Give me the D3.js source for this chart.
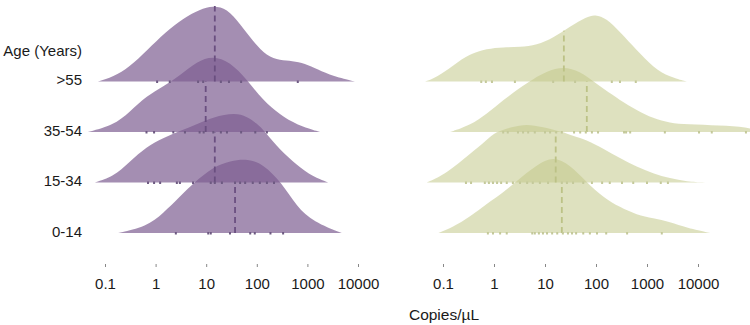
<!DOCTYPE html>
<html>
<head>
<meta charset="utf-8">
<script src="https://cdn.jsdelivr.net/npm/d3@7"></script>
<style>
body { margin: 0; background: #fff; }
text { font-family: "Liberation Sans", Arial, sans-serif; }
</style>
</head>
<body>
<div id="chart-area"></div>
<script>
const WIDTH = 750
const HEIGHT = 325

const ages = [">55", "35-54", "15-34", "0-14"]
const tickVals = [0.1, 1, 10, 100, 1000, 10000]

// ridge outlines: [log10 copies/uL, height in ridge spacings]
const densLeft = [
  [[-1.14,0],[-0.84,0.09],[-0.51,0.29],[-0.17,0.62],[0.20,0.98],[0.54,1.25],[0.88,1.43],[1.13,1.50],[1.41,1.45],[1.67,1.14],[1.92,0.80],[2.20,0.50],[2.46,0.42],[2.70,0.41],[2.95,0.36],[3.20,0.24],[3.51,0.10],[3.94,0]],
  [[-1.34,0],[-0.84,0.13],[-0.51,0.40],[-0.17,0.72],[0.15,0.90],[0.48,1.12],[0.82,1.40],[1.13,1.51],[1.47,1.39],[1.81,1.03],[2.12,0.63],[2.46,0.34],[2.79,0.14],[3.25,0]],
  [[-1.20,0],[-0.84,0.11],[-0.51,0.41],[-0.18,0.71],[0.15,0.88],[0.48,1.02],[0.81,1.15],[1.14,1.30],[1.57,1.38],[1.80,1.31],[2.00,1.17],[2.16,1.01],[2.46,0.64],[2.79,0.35],[3.11,0.11],[3.41,0]],
  [[-0.74,0],[-0.18,0.125],[0.15,0.39],[0.48,0.72],[0.76,1.0],[1.14,1.31],[1.47,1.43],[1.83,1.47],[2.13,1.36],[2.49,1.00],[2.79,0.52],[3.12,0.22],[3.68,0]]
]
const densRight = [
  [[-1.35,0],[-1.12,0.085],[-0.80,0.32],[-0.47,0.55],[-0.14,0.65],[0.18,0.68],[0.51,0.68],[0.84,0.72],[1.16,0.86],[1.49,1.09],[1.82,1.28],[1.98,1.33],[2.21,1.25],[2.47,0.98],[2.80,0.62],[3.12,0.28],[3.45,0.085],[3.78,0]],
  [[-0.86,0],[-0.47,0.13],[-0.14,0.36],[0.18,0.63],[0.51,0.88],[0.77,1.05],[1.03,1.20],[1.36,1.30],[1.69,1.20],[1.95,1.0],[2.14,0.86],[2.47,0.63],[2.80,0.43],[3.12,0.27],[3.45,0.18],[3.78,0.15],[4.43,0.13],[4.95,0.10],[5.3,0]],
  [[-1.32,0],[-0.93,0.18],[-0.47,0.57],[-0.14,0.84],[0.02,1.0],[0.35,1.1],[0.64,1.16],[0.95,1.1],[1.35,1.0],[1.55,0.92],[1.82,0.84],[2.14,0.67],[2.47,0.48],[2.80,0.31],[3.12,0.18],[3.45,0.08],[3.78,0.02],[4.14,0]],
  [[-1.09,0],[-0.80,0.12],[-0.47,0.32],[-0.14,0.58],[0.18,0.8],[0.41,1.0],[0.84,1.35],[1.16,1.52],[1.49,1.35],[1.82,1.0],[2.14,0.71],[2.47,0.51],[2.80,0.36],[3.12,0.29],[3.45,0.22],[3.78,0.10],[4.24,0]]
]

// medians, log10 copies/uL
const medLeft = [1.17, 0.99, 1.17, 1.57]
const medRight = [1.37, 1.82, 1.21, 1.33]

// sample points under each ridge, log10 copies/uL
const rugLeft = [
  [0.03, 0.28, 0.84, 0.94, 1.29, 1.45, 1.69, 2.81],
  [-0.18, -0.03, 0.35, 0.58, 0.87, 0.95, 1.14, 1.29, 1.41, 1.69, 1.97, 2.20],
  [-0.15, -0.03, 0.09, 0.42, 0.48, 0.74, 1.09, 1.17, 1.31, 1.57, 1.67, 1.77, 1.92, 2.06, 2.20, 2.34],
  [0.40, 1.04, 1.09, 1.47, 1.87, 1.96, 2.27, 2.52]
]
const rugRight = [
  [-0.25, -0.16, -0.04, 0.41, 1.16, 1.59, 2.31, 2.47, 2.78],
  [0.18, 0.27, 0.47, 0.57, 0.67, 0.80, 1.0, 1.10, 1.22, 1.33, 1.57, 1.69, 1.80, 1.92, 2.04, 2.55, 2.59, 2.67, 3.35, 4.02, 4.27, 4.94],
  [-0.55, -0.45, -0.18, -0.10, -0.02, 0.06, 0.14, 0.25, 0.37, 0.51, 0.65, 0.76, 0.90, 1.06, 1.33, 1.43, 1.55, 1.75, 1.92, 2.12, 2.27, 2.51, 2.73, 3.00, 3.27, 3.41],
  [-0.12, -0.02, 0.12, 0.25, 0.75, 0.80, 0.88, 0.96, 1.04, 1.14, 1.24, 1.35, 1.45, 1.53, 1.61, 1.75, 1.88, 2.02, 2.20, 2.61, 3.29]
]

const svg = d3.select("#chart-area").append("svg")
  .attr("width", WIDTH)
  .attr("height", HEIGHT)

// ridge baselines
const y = d3.scalePoint().domain(ages).range([81.5, 233])
// ridge height -> pixels
const h = d3.scaleLinear().domain([0, 1]).range([0, 50.5])

const panels = [
  { x: d3.scaleLog().domain([0.1, 10000]).range([105, 358]), dens: densLeft, med: medLeft, rug: rugLeft,
    fill: "#7d5e92", op: 0.7, line: "#6a4f80", rugCol: "#6e5a82" },
  { x: d3.scaleLog().domain([0.1, 10000]).range([443, 698]), dens: densRight, med: medRight, rug: rugRight,
    fill: "#c3c98a", op: 0.55, line: "#bcc286", rugCol: "#c4c99a" }
]

function heightAt(pts, v) {
  for (let k = 0; k < pts.length - 1; k++) {
    if (v >= pts[k][0] && v <= pts[k + 1][0]) {
      const t = (v - pts[k][0]) / (pts[k + 1][0] - pts[k][0])
      return pts[k][1] + t * (pts[k + 1][1] - pts[k][1])
    }
  }
  return 0
}

panels.forEach(p => {
  const g = svg.append("g")

  // bottom ridge first so the upper ones sit on top
  for (let i = ages.length - 1; i >= 0; i--) {
    const base = y(ages[i])
    const area = d3.area()
      .x(d => p.x(10 ** d[0]))
      .y0(base)
      .y1(d => base - h(d[1]))
      .curve(d3.curveBasis)

    g.append("path")
      .datum(p.dens[i])
      .attr("d", area)
      .attr("fill", p.fill)
      .attr("fill-opacity", p.op)

    // median line, stops at the baseline of the ridge above
    let top = base - h(heightAt(p.dens[i], p.med[i]))
    if (i > 0) top = Math.max(top, y(ages[i - 1]))
    g.append("line")
      .attr("x1", p.x(10 ** p.med[i]))
      .attr("x2", p.x(10 ** p.med[i]))
      .attr("y1", base)
      .attr("y2", top)
      .attr("stroke", p.line)
      .attr("stroke-width", 1.8)
      .attr("stroke-dasharray", "6,4")

    g.selectAll(null)
      .data(p.rug[i])
      .enter().append("rect")
      .attr("x", d => p.x(10 ** d) - 1)
      .attr("y", base - 1)
      .attr("width", 2)
      .attr("height", 2.5)
      .attr("fill", p.rugCol)
  }

  const axis = g.append("g")
    .attr("transform", "translate(0, 264)")
    .call(d3.axisBottom(p.x).tickValues(tickVals).tickFormat(d => d).tickSize(3).tickPadding(11))
  axis.select(".domain").remove()
  axis.selectAll("line").attr("stroke", "#888")
  axis.selectAll("text")
    .attr("font-size", "15px")
    .attr("fill", "#1a1a1a")
    .style("font-family", '"Liberation Sans", Arial, sans-serif')
})

// row labels
svg.append("text")
  .attr("x", 82)
  .attr("y", 55.5)
  .attr("text-anchor", "end")
  .attr("font-size", "15px")
  .attr("fill", "#1a1a1a")
  .text("Age (Years)")

ages.forEach(a => {
  svg.append("text")
    .attr("x", 82)
    .attr("y", y(a) + 3.5)
    .attr("text-anchor", "end")
    .attr("font-size", "15px")
    .attr("fill", "#1a1a1a")
    .text(a)
})

// x label
svg.append("text")
  .attr("x", 444)
  .attr("y", 320)
  .attr("text-anchor", "middle")
  .attr("font-size", "15.5px")
  .attr("fill", "#1a1a1a")
  .text("Copies/µL")
</script>
</body>
</html>
